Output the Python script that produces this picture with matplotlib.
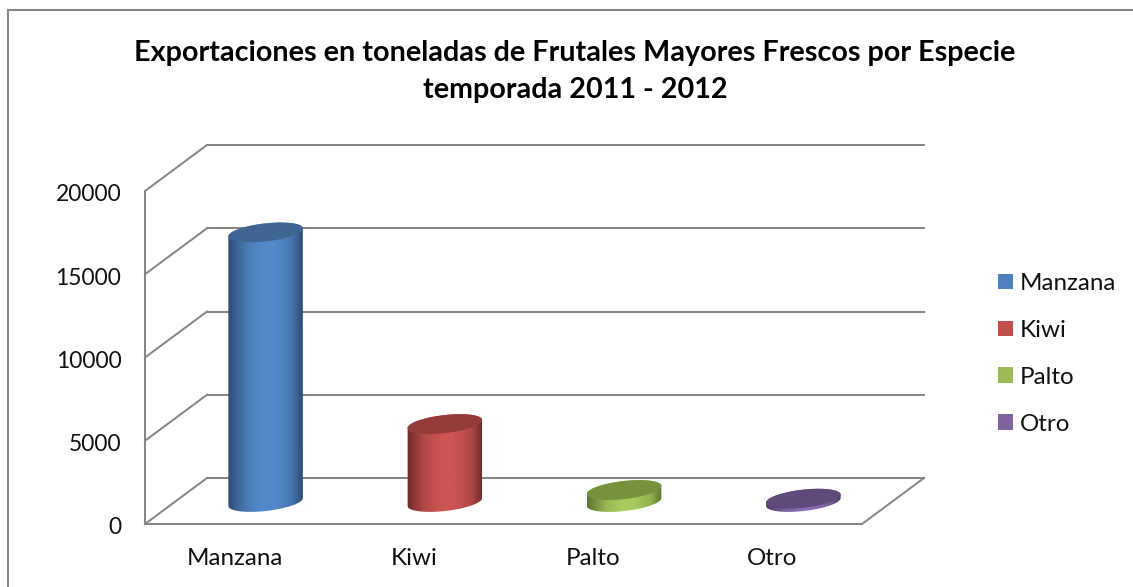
#!/usr/bin/env python
# encoding: utf-8

import numpy as np
import matplotlib
matplotlib.use('Agg')
import matplotlib.pyplot as plt
from matplotlib.colors import LinearSegmentedColormap, to_rgb
from matplotlib.lines import Line2D
from matplotlib.patches import Patch, PathPatch
from matplotlib.path import Path
from matplotlib.transforms import Affine2D, IdentityTransform

categories = ['Manzana', 'Kiwi', 'Palto', 'Otro']
values = [16190, 4680, 720, 200]
y_ticks = [0, 5000, 10000, 15000, 20000]

legend_colors = ['#4f81bd', '#c0504d', '#9bbb59', '#8064a2']
edge_colors = ['#2c4d75', '#772c2a', '#5f7530', '#4d3b62']
mid_colors = ['#5389ca', '#cc5452', '#a6cc5c', '#8a6cb0']
top_colors = ['#3f6593', '#943b39', '#76923c', '#604a7b']

GRAY = '#868686'
LW = 1.45
BACK_OFF = (62, 46)
BAR_OFF = (31, 22)
BAR_A = 37.5
BAR_B = 9.0
TILT = np.radians(6.5)

plt.rcParams['font.family'] = ['Lato', 'DejaVu Sans']

W, H = 1133, 587
fig = plt.figure(figsize=(W / 100, H / 100), dpi=100)
ax = fig.add_axes([145 / W, 1 - 524 / H, 717 / W, 333 / H])
ax.set_xlim(0, len(categories))
ax.set_ylim(0, 20000)
ax.patch.set_visible(False)
for side in ['top', 'right']:
    ax.spines[side].set_visible(False)
for side in ['left', 'bottom']:
    ax.spines[side].set_color(GRAY)
    ax.spines[side].set_linewidth(LW)

ax.set_xticks(np.arange(len(categories)) + 0.5)
ax.set_xticklabels(categories)
ax.set_yticks(y_ticks)
ax.set_yticklabels([str(t) for t in y_ticks])
ax.tick_params(axis='x', length=0, pad=17, labelsize=17.4, colors='#111111')
ax.tick_params(axis='y', length=0, pad=17, labelsize=16.4, colors='#111111')
# value labels sit a little lower than their gridline in the original
for label in ax.get_yticklabels():
    label.set_transform(label.get_transform() + Affine2D().translate(0, -2))

# back wall and the diagonals going to it
back = ax.transData + Affine2D().translate(*BACK_OFF)
for t in y_ticks:
    ax.plot([0, len(categories)], [t, t], color=GRAY, lw=LW, transform=back,
            clip_on=False, zorder=1)
    x0, y0 = ax.transData.transform((0, t))
    ax.plot([x0, x0 + BACK_OFF[0]], [y0, y0 + BACK_OFF[1]], color=GRAY, lw=LW,
            transform=IdentityTransform(), clip_on=False, zorder=1)
x0, y0 = ax.transData.transform((len(categories), 0))
ax.plot([x0, x0 + BACK_OFF[0]], [y0, y0 + BACK_OFF[1]], color=GRAY, lw=LW,
        transform=IdentityTransform(), clip_on=False, zorder=1)


def ellipse_points(cx, cy, start, stop):
    t = np.linspace(start, stop, 80)
    ex = BAR_A * np.cos(t)
    ey = BAR_B * np.sin(t)
    return np.column_stack([cx + ex * np.cos(TILT) - ey * np.sin(TILT),
                            cy + ex * np.sin(TILT) + ey * np.cos(TILT)])


def blend(a, b, k):
    return tuple((1 - k) * x + k * y for x, y in zip(to_rgb(a), to_rgb(b)))


for i, v in enumerate(values):
    base = ax.transData.transform((i + 0.5, 0)) + BAR_OFF
    top = ax.transData.transform((i + 0.5, v)) + BAR_OFF

    # body outline: lower half of the base, then upper half of the top
    lower = ellipse_points(base[0], base[1], np.pi, 2 * np.pi)
    upper = ellipse_points(top[0], top[1], 0, np.pi)
    body = PathPatch(Path(np.vstack([lower, upper, lower[:1]])),
                     transform=IdentityTransform(), fc='none', ec='none')
    ax.add_patch(body)

    # light stays broad in the middle, falls off fast near the edges
    edge, mid = edge_colors[i], mid_colors[i]
    cmap = LinearSegmentedColormap.from_list(
        'bar', [(0, edge), (0.25, blend(edge, mid, 0.75)), (0.45, mid), (0.62, mid),
                (0.85, blend(edge, mid, 0.7)), (1, edge)])
    im = ax.imshow(np.linspace(0, 1, 200)[None, :], cmap=cmap, aspect='auto',
                   extent=(base[0] - BAR_A, base[0] + BAR_A, base[1] - 20, top[1] + 20),
                   transform=IdentityTransform(), zorder=3)
    im.set_clip_path(body)

    cap = PathPatch(Path(ellipse_points(top[0], top[1], 0, 2 * np.pi)),
                    transform=IdentityTransform(), fc=top_colors[i], ec='none',
                    zorder=4, clip_on=False)
    ax.add_patch(cap)

fig.text(575 / W, 1 - 53 / H, 'Exportaciones en toneladas de Frutales Mayores Frescos por Especie',
         ha='center', va='center', fontsize=20.7, fontweight='bold', color='black')
fig.text(575 / W, 1 - 90 / H, 'temporada 2011 - 2012',
         ha='center', va='center', fontsize=20.7, fontweight='bold', color='black')

handles = [Patch(fc=c, ec='none', label=n) for c, n in zip(legend_colors, categories)]
fig.legend(handles=handles, loc='upper left', bbox_to_anchor=(998 / W, 1 - 273 / H),
           frameon=False, fontsize=17.4, borderaxespad=0, borderpad=0,
           handlelength=0.62, handleheight=0.62, handletextpad=0.29, labelspacing=1.07,
           labelcolor='#111111')

# chart area border, runs off the image to the right and the bottom
fig.add_artist(Line2D([8 / W, 8 / W], [0, 1 - 10 / H], color=GRAY, lw=LW))
fig.add_artist(Line2D([8 / W, 1], [1 - 10 / H, 1 - 10 / H], color=GRAY, lw=LW))

fig.savefig('out.png', dpi=100)
